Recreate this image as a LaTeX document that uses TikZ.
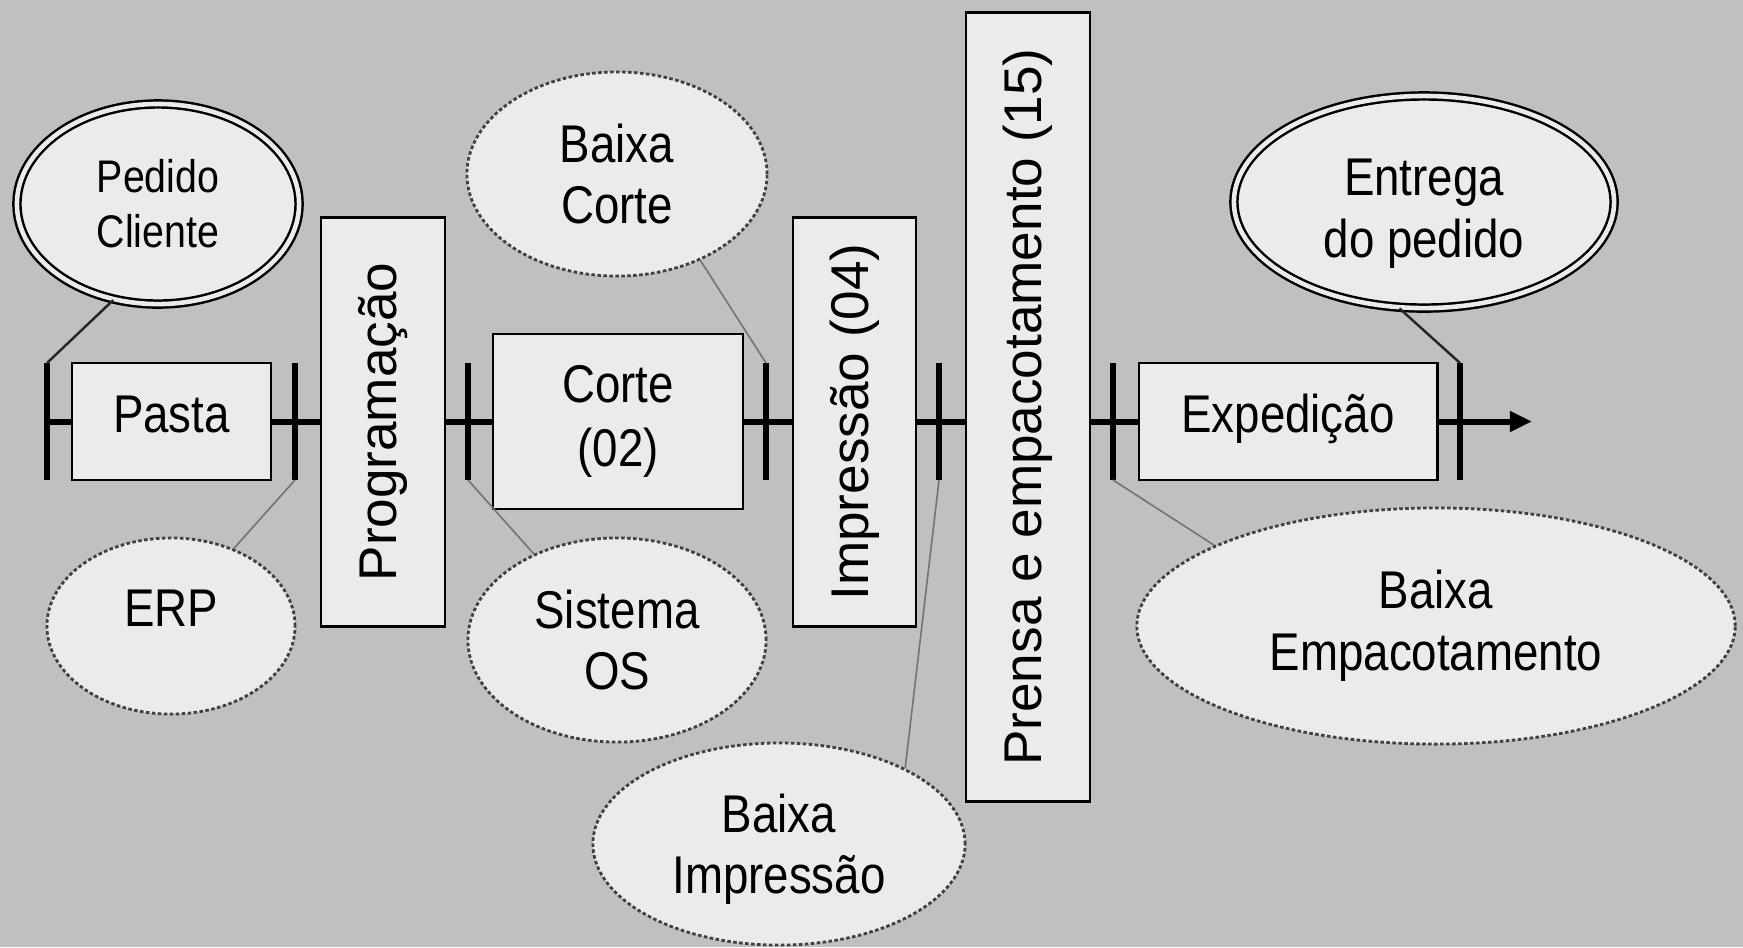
\documentclass[tikz,border=0pt]{standalone}
\usepackage{fontspec}
\setmainfont{Liberation Sans}
\newfontfamily\narrowsans[FakeStretch=0.86]{Liberation Sans}
\usetikzlibrary{shapes.geometric,arrows.meta}
\definecolor{bggray}{HTML}{C0C0C0}
\definecolor{boxfill}{HTML}{EBEBEB}

\begin{document}
\begin{tikzpicture}[x=0.01cm,y=-0.01cm,
  stagebox/.style={draw=black, line width=0.8pt, fill=boxfill, inner sep=0pt,
    align=center, font=\narrowsans\fontsize{15.1}{18.2}\selectfont},
  onelinebox/.style={stagebox, text height=10.9pt, text depth=4.6pt},
  vstage/.style={draw=black, line width=0.8pt, fill=boxfill, inner sep=0pt,
    font=\fontsize{15.1}{18}\selectfont},
  sysbubble/.style={ellipse, draw=black!75, line width=0.8pt,
    dash pattern=on 1pt off 0.7pt, fill=boxfill, inner sep=0pt, align=center,
    font=\narrowsans\fontsize{15.1}{17.6}\selectfont},
  endbubble/.style={ellipse, draw=black, line width=0.7pt, double=boxfill,
    double distance=1.3pt, fill=boxfill, inner sep=0pt, align=center,
    font=\narrowsans\fontsize{15.1}{17.6}\selectfont},
  mainline/.style={line width=1.7pt},
  tickline/.style={line width=1.5pt},
  link/.style={draw=black!55, line width=0.45pt},
  stronglink/.style={draw=black!85, line width=0.7pt}
]
\useasboundingbox (0,0) rectangle (1743,947);
\fill[bggray] (0,0) rectangle (1743,947);

% process stages along the main line
\node[onelinebox, minimum width=1.99cm, minimum height=1.17cm] (pasta) at (171.5,421.5) {Pasta};
\node[vstage, minimum width=1.24cm, minimum height=4.08cm] (prog) at (383,422) {\rotatebox{90}{Programação}};
\node[stagebox, minimum width=2.50cm, minimum height=1.75cm] (corte) at (618,421.5) {Corte\\(02)};
\node[vstage, minimum width=1.23cm, minimum height=4.08cm] (impr) at (854.5,422) {\rotatebox{90}{Impressão (04)}};
\node[vstage, minimum width=1.24cm, minimum height=7.88cm] (prensa) at (1028,407) {\rotatebox{90}{Prensa e empacotamento (15)}};
\node[onelinebox, minimum width=2.98cm, minimum height=1.17cm] (exped) at (1288,421.5) {Expedição};

% tick marks on the main line
\coordinate (t1) at (47,421.5);
\coordinate (t1u) at (47,363);   \coordinate (t1d) at (47,480);
\coordinate (t2u) at (295,363);  \coordinate (t2d) at (295,480);
\coordinate (t3u) at (468,363);  \coordinate (t3d) at (468,480);
\coordinate (t4u) at (766,363);  \coordinate (t4d) at (766,480);
\coordinate (t5u) at (939,363);  \coordinate (t5d) at (939,480);
\coordinate (t6u) at (1113,363); \coordinate (t6d) at (1113,480);
\coordinate (t7u) at (1460,363); \coordinate (t7d) at (1460,480);
\coordinate (tip) at (1532,421.5);

% main flow line
\draw[mainline] (t1) -- (pasta.west);
\draw[mainline] (pasta.east) -- (prog.west |- t1);
\draw[mainline] (prog.east |- t1) -- (corte.west);
\draw[mainline] (corte.east) -- (impr.west |- t1);
\draw[mainline] (impr.east |- t1) -- (prensa.west |- t1);
\draw[mainline] (prensa.east |- t1) -- (exped.west);
\draw[mainline, -{Triangle[length=6.3pt,width=5.6pt]}] (exped.east) -- (tip);

\foreach \t in {t1,t2,t3,t4,t5,t6,t7}
  \draw[tickline] (\t u) -- (\t d);

% start and end events
\node[endbubble, font=\narrowsans\fontsize{13}{15.6}\selectfont,
  minimum width=2.82cm, minimum height=2.0cm] (pedido) at (158,204) {Pedido\\Cliente};
\node[endbubble, text height=34.6pt, minimum width=3.8cm, minimum height=2.12cm] (entrega) at (1424,202) {Entrega\\do pedido};

% supporting systems and records
\node[sysbubble, minimum width=3.0cm, minimum height=2.04cm] (bcorte) at (617,174) {Baixa\\Corte};
\node[sysbubble, text depth=10.2pt, minimum width=2.48cm, minimum height=1.76cm] (erp) at (171,626) {ERP};
\node[sysbubble, minimum width=2.98cm, minimum height=2.04cm] (sos) at (617,640) {Sistema\\OS};
\node[sysbubble, text height=31.5pt, minimum width=3.72cm, minimum height=2.02cm] (bimp) at (779,844) {Baixa\\Impressão};
\node[sysbubble, minimum width=5.98cm, minimum height=2.36cm] (bemp) at (1436,626) {Baixa\\Empacotamento};

% links to the tick marks
\draw[stronglink] (pedido.245) -- (t1u);
\draw[link] (erp.51) -- (t2d);
\draw[link] (sos.134) -- (t3d);
\draw[link] (bcorte.-46) -- (t4u);
\draw[link] (bimp.31) -- (t5d);
\draw[link] (bemp.160) -- (t6d);
\draw[stronglink] (entrega.257) -- (t7u);
\end{tikzpicture}
\end{document}
